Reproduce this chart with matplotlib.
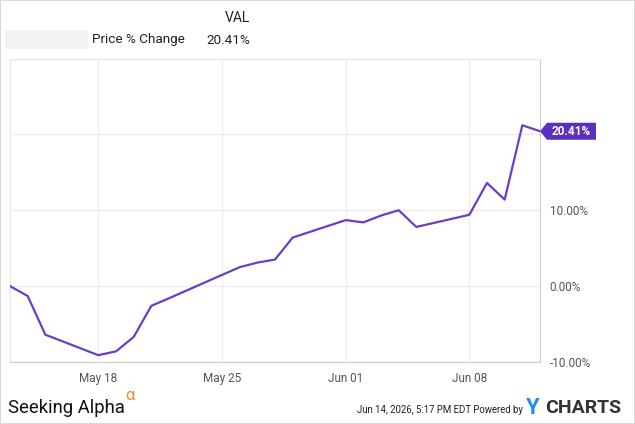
import matplotlib
matplotlib.use('Agg')
from matplotlib import pyplot as plt
import matplotlib.dates as mdates
from matplotlib.patches import Polygon, Rectangle
from matplotlib.transforms import IdentityTransform
import pandas as pd

plt.rcParams['font.family'] = ['Roboto', 'DejaVu Sans']

ticker = 'VAL'
dates = pd.to_datetime(['2026-05-13', '2026-05-14', '2026-05-15', '2026-05-18',
                        '2026-05-19', '2026-05-20', '2026-05-21', '2026-05-22',
                        '2026-05-26', '2026-05-27', '2026-05-28', '2026-05-29',
                        '2026-06-01', '2026-06-02', '2026-06-03', '2026-06-04',
                        '2026-06-05', '2026-06-08', '2026-06-09', '2026-06-10',
                        '2026-06-11', '2026-06-12'])
pct_change = [0.0, -1.3, -6.4, -9.1, -8.6, -6.7, -2.6, -1.6, 2.5, 3.1, 3.5,
              6.4, 8.7, 8.4, 9.3, 10.0, 7.8, 9.4, 13.6, 11.4, 21.2, 20.41]
y_ticks = [-10, 0, 10, 20, 30]
y_labels = ['-10.00%', '0.00%', '10.00%', '', '']

line_color = '#6a3fc6'
tag_color = '#5b2fbf'

fig = plt.figure(figsize=(6.35, 4.24), dpi=100)
ax = fig.add_axes([10 / 635, 1 - 362 / 424, 530 / 635, 303.5 / 424])

ax.plot(dates, pct_change, color=line_color, linewidth=1.6, zorder=3)

ax.set_xlim(pd.Timestamp('2026-05-13'), pd.Timestamp('2026-06-12'))
ax.set_ylim(-10, 30)
ax.set_yticks(y_ticks)
ax.set_yticklabels(y_labels)
ax.xaxis.set_major_locator(mdates.WeekdayLocator(byweekday=mdates.MO))
ax.xaxis.set_major_formatter(mdates.DateFormatter('%b %d'))

ax.yaxis.tick_right()
ax.tick_params(axis='both', length=0, labelsize=8.5, labelcolor='#555555')
ax.tick_params(axis='y', pad=7)
ax.tick_params(axis='x', pad=7)
ax.grid(True, color='#ececec', linewidth=1)
ax.set_axisbelow(True)
for side in ['top', 'left']:
    ax.spines[side].set_color('#e8e8e8')
for side in ['bottom', 'right']:
    ax.spines[side].set_color('#cccccc')

# price tag on the last value
fig.canvas.draw()
px, py = ax.transData.transform((mdates.date2num(dates[-1]), pct_change[-1]))
h = 8.5
tag = Polygon([(px, py), (px + 7, py + h), (px + 56, py + h),
               (px + 56, py - h), (px + 7, py - h)], closed=True,
              facecolor=tag_color, edgecolor='none', transform=IdentityTransform(),
              clip_on=False, zorder=5)
fig.add_artist(tag)
fig.text((px + 31.5) / 635, py / 424, '{:.2f}%'.format(pct_change[-1]),
         color='white', fontsize=8.5, fontweight='bold', ha='center', va='center',
         zorder=6)

# header
fig.add_artist(Rectangle((5 / 635, 1 - 49 / 424), 83 / 635, 19 / 424,
                         transform=fig.transFigure, facecolor='#f3f3f3',
                         edgecolor='none'))
fig.text(250 / 635, 1 - 18 / 424, ticker, ha='right', va='center',
         fontsize=10, color='#222222')
fig.text(92 / 635, 1 - 40 / 424, 'Price % Change', ha='left', va='center',
         fontsize=9.7, color='#222222')
fig.text(250 / 635, 1 - 40 / 424, '{:.2f}%'.format(pct_change[-1]), ha='right',
         va='center', fontsize=9.7, color='#222222')

# footer
fig.text(8 / 635, 1 - 408 / 424, 'Seeking Alpha', ha='left', va='center',
         fontsize=13.3, color='#111111')
fig.text(125 / 635, 1 - 396 / 424, '\u03b1', ha='left', va='center',
         fontsize=12, color='#f08a24')
fig.text(523 / 635, 1 - 410 / 424, 'Jun 14, 2026, 5:17 PM EDT Powered by',
         ha='right', va='center', fontsize=6.9, color='#222222')
fig.text(526 / 635, 1 - 408 / 424, 'Y', ha='left', va='center',
         fontsize=16, color='#1f8fe8', fontweight='bold')
fig.text(545 / 635, 1 - 408 / 424, 'CHARTS', ha='left', va='center',
         fontsize=14, color='#333333', fontweight='bold')

fig.add_artist(Rectangle((0, 0), 1, 1, transform=fig.transFigure,
                         facecolor='none', edgecolor='#d9d9d9', linewidth=1.5))

fig.savefig('out.png', dpi=100)
